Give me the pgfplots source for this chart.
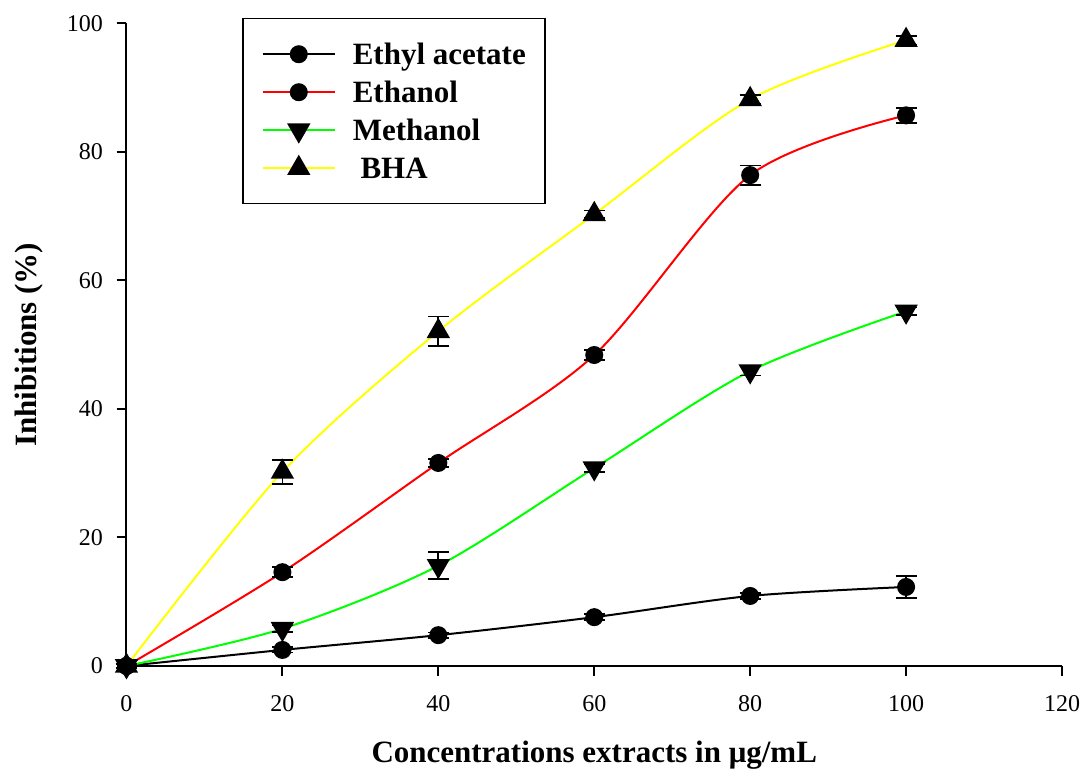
\documentclass[border=0pt]{standalone}
\usepackage{fontspec}
\setmainfont{Liberation Serif}
\usepackage{pgfplots}
\pgfplotsset{compat=1.18}
\definecolor{cgreen}{RGB}{0,255,0}
\definecolor{cyellow}{RGB}{255,255,0}
\definecolor{cred}{RGB}{255,0,0}
\begin{document}
\begin{tikzpicture}
\useasboundingbox (-126.5pt,-109pt) rectangle (957.5pt,666pt);
\begin{axis}[
  at={(0pt,0pt)}, anchor=south west,
  scale only axis, width=935.5pt, height=642.5pt,
  xmin=0, xmax=120, ymin=0, ymax=100,
  xtick={0,20,...,120}, ytick={0,20,...,100},
  axis x line*=bottom, axis y line*=left,
  axis line style={line width=2pt},
  tick align=outside, major tick length=10pt,
  every tick/.style={line width=2pt, black},
  minor tick num=0,
  tick label style={font=\fontsize{24}{24}\selectfont},
  xticklabel style={yshift=-16pt},
  yticklabel style={xshift=-10pt},
  /pgf/number format/assume math mode=true,
  xlabel={Concentrations extracts in μg/mL},
  ylabel={Inhibitions (\%)},
  label style={font=\fontsize{31}{31}\selectfont\bfseries},
  xlabel style={at={(axis description cs:0.5,0)}, anchor=base, yshift=-97pt},
  ylabel style={at={(axis description cs:-0.0967,0.5)}, anchor=base},
  clip=false,
  legend style={at={(0.1235,1.0086)}, anchor=north west, draw=black, line width=1.5pt,
    font=\fontsize{31}{31}\selectfont\bfseries,
    inner xsep=19pt, inner ysep=21pt, row sep=9pt,
    nodes={inner sep=0pt, text height=25pt, text depth=4pt},
    /tikz/every odd column/.append style={column sep=17pt}},
  legend cell align=left,
  legend image code/.code={\draw[#1, mark repeat=2, mark phase=2] plot coordinates {(0pt,0pt) (36pt,0pt) (72pt,0pt)};},
  every axis plot/.append style={line width=2pt},
  error bars/error bar style={line width=1.8pt, black},
  error bars/error mark options={rotate=90, mark size=10.5pt, line width=1.8pt, black},
]
\addplot[black, smooth, mark=*, mark size=8pt, mark options={fill=black, draw=black},
  error bars/.cd, y dir=both, y explicit]
  coordinates {(0,0) +- (0,0.3) (20,2.5) +- (0,0.4) (40,4.8) +- (0,0.4) (60,7.6) +- (0,0.5) (80,10.9) +- (0,0.5) (100,12.3) +- (0,1.7)};
\addlegendentry{Ethyl acetate}
\addplot[cred, smooth, mark=*, mark size=8pt, mark options={fill=black, draw=black},
  error bars/.cd, y dir=both, y explicit]
  coordinates {(0,0) +- (0,0.3) (20,14.6) +- (0,0.8) (40,31.6) +- (0,0.6) (60,48.4) +- (0,0.8) (80,76.4) +- (0,1.5) (100,85.7) +- (0,1.2)};
\addlegendentry{Ethanol}
\addplot[cgreen, smooth, mark=triangle*, mark size=11.5pt, mark options={fill=black, draw=black, rotate=180},
  error bars/.cd, y dir=both, y explicit]
  coordinates {(0,0) +- (0,0.3) (20,5.8) +- (0,0.5) (40,15.6) +- (0,2.1) (60,30.8) +- (0,0.6) (80,45.9) +- (0,0.7) (100,55.2) +- (0,0.6)};
\addlegendentry{Methanol}
\addplot[cyellow, smooth, mark=triangle*, mark size=11.5pt, mark options={fill=black, draw=black},
  error bars/.cd, y dir=both, y explicit]
  coordinates {(0,0) +- (0,0.3) (20,30.2) +- (0,1.9) (40,52.1) +- (0,2.3) (60,70.3) +- (0,0.6) (80,88.2) +- (0,0.7) (100,97.4) +- (0,0.7)};
\addlegendentry{\ BHA}
\end{axis}
\end{tikzpicture}
\end{document}
